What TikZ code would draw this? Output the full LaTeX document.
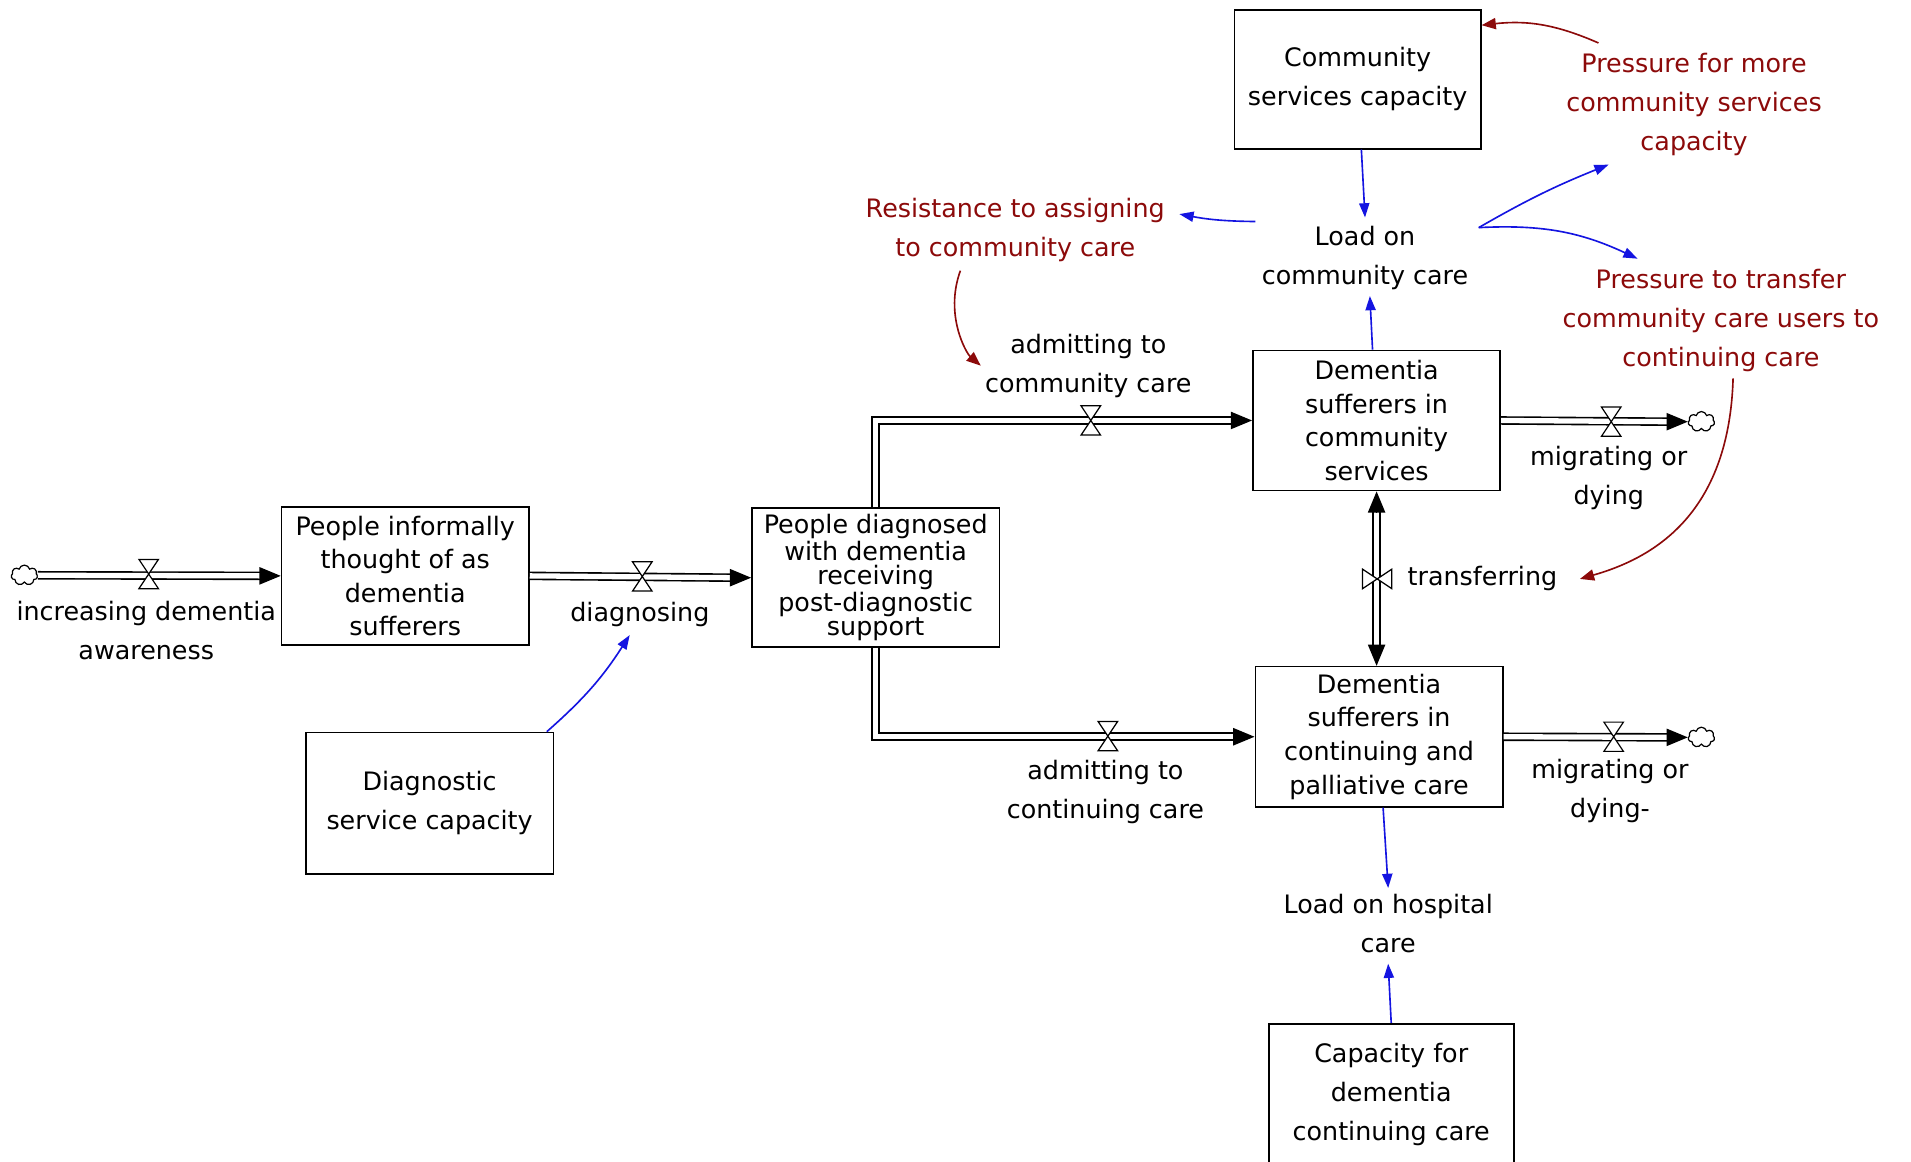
\documentclass[tikz,border=0pt]{standalone}
\usepackage{fontspec}
\setmainfont{DejaVu Sans}
\usetikzlibrary{arrows.meta,shapes.symbols,calc}
\definecolor{infoblue}{RGB}{20,20,225}
\definecolor{loopred}{RGB}{140,10,10}
\tikzset{
  lbl/.style={align=center,inner sep=1pt,font=\fontsize{12.5}{19.2}\selectfont},
  redlbl/.style={lbl,text=loopred},
  stock/.style={draw,line width=0.8pt,align=center,inner sep=0pt,
    font=\fontsize{12.5}{16.5}\selectfont,minimum width=121.8pt,minimum height=69pt},
  pipe/.style={draw,double,double distance=2.6pt,line width=0.8pt},
  pipetip/.style={-{Triangle[length=10.5pt,width=8.5pt]},line width=0.8pt},
  info/.style={infoblue,line width=0.8pt,-{Triangle[length=7pt,width=5pt]}},
  infored/.style={loopred,line width=0.8pt,-{Triangle[length=7pt,width=5.5pt]}},
  cloudsrc/.style={cloud,draw,cloud puffs=7,aspect=1.3,minimum width=13pt,
    minimum height=10pt,inner sep=0pt,line width=0.6pt,fill=white},
  valve/.pic={\draw[fill=white,line width=0.6pt] (-8,-12)--(8,-12)--(0,0)--cycle
     (-8,12)--(8,12)--(0,0)--cycle;}
}
\begin{document}
\begin{tikzpicture}[x=0.6pt,y=-0.6pt]
\useasboundingbox[fill=white] (0,0) rectangle (1568,953);

% stocks
\node[stock,minimum height=68.4pt,minimum width=121.2pt,font=\fontsize{12.5}{19.2}\selectfont] (comcap) at (1114,65) {Community\\services capacity};
\node[stock] (dcs) at (1129.5,345) {Dementia\\sufferers in\\community\\services};
\node[stock,minimum height=67.8pt] (pif) at (332.5,472.5) {People informally\\thought of as\\dementia\\sufferers};
\node[stock,minimum height=68.4pt,font=\fontsize{12.5}{12}\selectfont] (pdd) at (718.5,474) {People diagnosed\\with dementia\\receiving\\post-diagnostic\\support};
\node[stock] (dcc) at (1131.5,604.5) {Dementia\\sufferers in\\continuing and\\palliative care};
\node[stock,minimum height=69.6pt,font=\fontsize{12.5}{19.2}\selectfont] (dsc) at (352.5,659) {Diagnostic\\service capacity};
\node[stock,minimum width=120.6pt,minimum height=69.6pt,font=\fontsize{12.5}{19.2}\selectfont] (capcc) at (1141.5,898) {Capacity for\\dementia\\continuing care};

% auxiliaries
\node[lbl] (loadcc) at (1120,211.5) {Load on\\community care};
\node[lbl] (loadhc) at (1139,758) {Load on hospital\\care};
\node[redlbl] (resist) at (833,189) {Resistance to assigning\\to community care};
\node[redlbl] (pmore) at (1390,86) {Pressure for more\\community services\\capacity};
\node[redlbl] (ptrans) at (1412,263) {Pressure to transfer\\community care users to\\continuing care};

% flow labels
\node[lbl] (incr) at (120,517) {increasing dementia\\awareness};
\node[lbl] (diag) at (525,504) {diagnosing};
\node[lbl] (admitcc) at (893,300) {admitting to\\community care};
\node[lbl] (admitcont) at (907,650) {admitting to\\continuing care};
\node[lbl] (mig1) at (1320,392.5) {migrating or\\dying};
\node[lbl] (mig2) at (1321,649) {migrating or\\dying-};
\node[lbl,anchor=west] (transf) at (1153,475) {transferring};

% clouds
\node[cloudsrc] (cloudL) at (20,472) {};
\node[cloudsrc] (cloudR1) at (1396,346) {};
\node[cloudsrc] (cloudR2) at (1396,605) {};

% pipes
\draw[pipe] (cloudL.east) -- ([xshift=-9pt]pif.west);
\draw[pipetip] ([xshift=-10pt]pif.west) -- (pif.west);
\draw[pipe] (pif.east) -- ([xshift=-9pt]pdd.west);
\draw[pipetip] ([xshift=-10pt]pdd.west) -- (pdd.west);
\draw[pipe] (pdd.north) |- ([xshift=-9pt]dcs.west);
\draw[pipetip] ([xshift=-10pt]dcs.west) -- (dcs.west);
\draw[pipe] (pdd.south) |- ([xshift=-9pt]dcc.west);
\draw[pipetip] ([xshift=-10pt]dcc.west) -- (dcc.west);
\draw[pipe] (dcs.east) -- ([xshift=-9pt]cloudR1.west);
\draw[pipetip] ([xshift=-10pt]cloudR1.west) -- (cloudR1.west);
\draw[pipe] (dcc.east) -- ([xshift=-9pt]cloudR2.west);
\draw[pipetip] ([xshift=-10pt]cloudR2.west) -- (cloudR2.west);
\draw[pipe] ([yshift=-9pt]dcs.south) -- ([yshift=9pt]dcs.south |- dcc.north);
\draw[pipetip] ([yshift=-10pt]dcs.south) -- (dcs.south);
\draw[pipetip] ([yshift=10pt]dcs.south |- dcc.north) -- (dcs.south |- dcc.north);

% valves
\pic at (122,471) {valve};
\pic at (527,473) {valve};
\pic at (895,345) {valve};
\pic at (909,604) {valve};
\pic at (1322,346) {valve};
\pic at (1324,604.5) {valve};
\pic[rotate=90] at (1130,475) {valve};

% information links
\draw[info] ([xshift=-3.6pt]dsc.north east) to[bend right=8] ([xshift=-5pt,yshift=-3pt]diag.south);
\draw[info] ([xshift=1.8pt]comcap.south) -- ([yshift=3pt]loadcc.north);
\draw[info] ([xshift=-2pt]dcs.north) -- ([xshift=2.4pt,yshift=-2pt]loadcc.south);
\draw[info] ([xshift=-2pt,yshift=1pt]loadcc.north west) to[bend left=5] ([xshift=6pt,yshift=8pt]resist.east);
\draw[info] ([xshift=4pt,yshift=-2pt]loadcc.north east) to[bend left=4] ([xshift=22pt,yshift=-3pt]pmore.south west);
\draw[info] ([xshift=4pt,yshift=-2pt]loadcc.north east) to[bend left=14] ([xshift=-41pt,yshift=4pt]ptrans.north);
\draw[info] ([xshift=2pt]dcc.south) -- ([yshift=2pt]loadhc.north);
\draw[info] (capcc.north) -- ([yshift=-4pt]loadhc.south);

% loop links
\draw[infored] ([xshift=17pt,yshift=4pt]pmore.north west) to[bend right=15] ([yshift=-8pt]comcap.north east);
\draw[infored] ([xshift=-27pt,yshift=-3pt]resist.south) .. controls ([xshift=-35pt,yshift=-25pt]resist.south) and ([xshift=-8pt,yshift=6pt]admitcc.west) .. ([xshift=-1pt]admitcc.west);
\draw[infored] ([xshift=6pt,yshift=-2pt]ptrans.south) .. controls ([xshift=4pt,yshift=-70pt]ptrans.south) and ([xshift=45pt,yshift=10pt]transf.east) .. ([xshift=10pt]transf.east);
\end{tikzpicture}
\end{document}
